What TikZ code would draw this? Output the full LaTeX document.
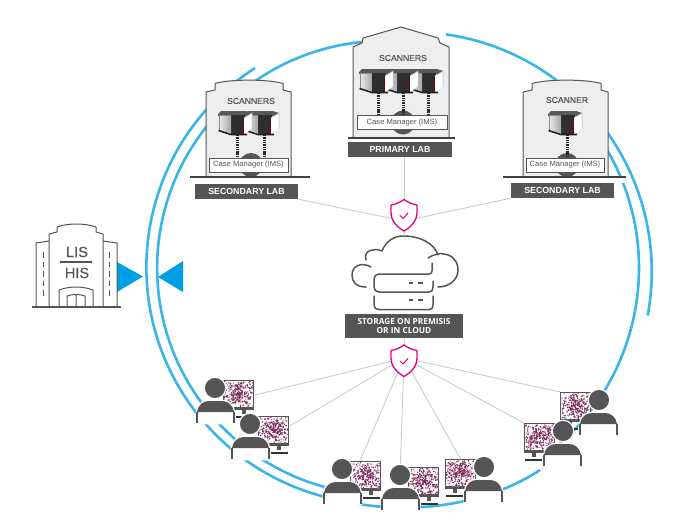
\documentclass[tikz,border=0pt]{standalone}
\usepackage{fontspec}
\setmainfont{Liberation Sans}
\newfontfamily\storagefont{Open Sans}
\newfontfamily\heavyface{Liberation Sans}[FakeBold=0.35]
\definecolor{ringblue}{HTML}{3AB5EA}
\definecolor{arrowblue}{HTML}{009FE3}
\definecolor{slate}{HTML}{555555}
\definecolor{wallgrey}{HTML}{EEEEEE}
\definecolor{wireline}{HTML}{CCCCCC}
\definecolor{shieldpink}{HTML}{E6007E}
\definecolor{tissuedark}{HTML}{7A2C5A}
\definecolor{tissuelight}{HTML}{C68FAE}
\tikzset{
  ringline/.style={draw=ringblue,line width=2.6pt},
  wire/.style={draw=wireline,line width=0.9pt},
  wall/.style={draw=slate,fill=wallgrey,line width=1pt},
  ground/.style={draw=black!75,line width=1.1pt},
  labplate/.style={fill=slate,text=white,inner sep=0pt,font=\fontsize{8.8}{10}\selectfont\bfseries,minimum height=15pt},
  casebox/.style={draw=slate,fill=white,line width=0.8pt,inner sep=0pt,minimum height=14pt,text=slate,font=\fontsize{7.6}{9}\selectfont},
  heading/.style={text=slate,inner sep=0pt,font=\fontsize{8.6}{10}\selectfont\heavyface},
  hubdisc/.style={circle,fill=slate,inner sep=0pt,minimum size=24pt},
  linkdots/.style={draw=black!85,line width=2.3pt,dash pattern=on 1.4pt off 0.9pt},
  iconline/.style={draw=slate,line width=1.5pt,line cap=round,line join=round},
  towerline/.style={draw=slate,line width=1pt,line join=round},
  screenbox/.style={draw=slate,fill=white,line width=1.5pt,inner sep=0pt,minimum width=30pt,minimum height=29pt},
  headdisc/.style={circle,draw=white,fill=slate,line width=1.2pt,inner sep=0pt,minimum size=21.5pt},
  shieldline/.style={draw=shieldpink,fill=white,line width=1.3pt,line join=round},
}
% One scanner cabinet; #1 names its lower connection point
\newcommand{\scannerunit}[3]{%
  \begin{scope}[shift={(#2,#3)}]
    \fill[black!65] (0,4) -- (3,1) -- (28,1) -- (34,3) -- (33,6) -- (0,6) -- cycle;
    \fill[black!82] (13,5) -- (27,5) -- (27,25) -- (13,25) -- cycle;
    \shade[left color=black!8,right color=black!35] (1,5) -- (13,5) -- (13,23) -- (1,20) -- cycle;
    \draw[black!45,line width=0.5pt] (1,20) -- (1,5) -- (13,5);
    \fill[white] (26,8) -- (34,3) -- (34,18) -- (26,25) -- cycle;
    \draw[black!30,line width=0.5pt] (26,8) -- (34,3) -- (34,18);
    \draw[black!88,line width=1.6pt] (0.5,20.5) -- (13,24.5) -- (29,24.5);
    \draw[red!50!black,line width=0.5pt] (25,10) -- (25,23);
    \coordinate (#1) at (19.5,25);
  \end{scope}}
% A seated viewer with a monitor: #1 name, #2 #3 head centre, #4 side of the monitor
\newcommand{\viewer}[4]{%
  \begin{scope}[shift={(#2,#3)},xscale=#4]
    \fill[slate] (27,21) rectangle (31,26);
    \fill[black!80] (21,28) rectangle (38,30);
    \node[screenbox] (#1) at (23.5,7.2) {};
    \fill[slate] (8.5,19) rectangle (38.5,22);
    \begin{scope}
      \clip (9,-6.5) rectangle (38,19);
      \foreach \k in {1,...,90}{
        \pgfmathsetmacro\dotx{9+29*rnd}\pgfmathsetmacro\doty{-6.5+25.5*rnd}
        \fill[tissuelight] (\dotx,\doty) circle (0.85);}
      \foreach \k in {1,...,70}{
        \pgfmathsetmacro\dotx{9+29*rnd}\pgfmathsetmacro\doty{-6.5+25.5*rnd}
        \fill[tissuedark] (\dotx,\doty) circle (0.75);}
      \foreach \k in {1,...,110}{
        \pgfmathsetmacro\dotx{24+15*(rnd-rnd)}\pgfmathsetmacro\doty{6+14*(rnd-rnd)}
        \fill[tissuedark] (\dotx,\doty) circle (0.85);}
    \end{scope}
    \fill[white,draw=white,line width=2.6pt] (-18,35) -- (-18,24) .. controls (-17,17) and (-12,13) .. (-6,13) -- (7,13) .. controls (13,13) and (18,17) .. (19,24) -- (19,35) -- cycle;
    \fill[slate] (-18,24) .. controls (-17,17) and (-12,13) .. (-6,13) -- (7,13) .. controls (13,13) and (18,17) .. (19,24) -- cycle;
    \draw[slate,line width=1.5pt] (-18,24) -- (-18,35) (19,24) -- (19,35);
    \node[headdisc] (#1h) at (0,0) {};
  \end{scope}}
% Security shield centred on x = 404, top edge at #1
\newcommand{\shieldmark}[1]{%
  \begin{scope}[shift={(404,#1)}]
    \draw[shieldline] (0,0) .. controls (-4,3) and (-9,5) .. (-13,5.5) -- (-13,13) .. controls (-13,22) and (-6,28) .. (0,31.5) .. controls (6,28) and (13,22) .. (13,13) -- (13,5.5) .. controls (9,5) and (4,3) .. (0,0) -- cycle;
    \draw[draw=shieldpink,line width=1pt,line cap=round,line join=round] (-4,16) -- (-1,19) -- (4,13.5);
  \end{scope}}
\begin{document}
\begin{tikzpicture}[x=1pt,y=-1pt]
\useasboundingbox (0,0) rectangle (700,525);
\fill[white] (0,0) rectangle (700,525);
\pgfmathsetseed{11}

% The broken rings, each a circular arc in page coordinates
\draw[ringline] (255,68) arc[start angle=237.2,end angle=100.2,radius=237] .. controls (415,518) and (492,502) .. (540,470);
\draw[ringline] (362,42) arc[start angle=264.4,end angle=101.1,radius=227];
\draw[ringline] (446,34.4) arc[start angle=-81.9,end angle=10.6,radius=239.5];
\draw[ringline] (605.4,147) arc[start angle=-31,end angle=53.7,radius=235];

% Arrows into and out of the hospital system
\fill[arrowblue] (117,262) -- (143,276.5) -- (117,292) -- cycle;
\fill[arrowblue] (183,261) -- (158,277) -- (183,292) -- cycle;

% Hospital building
\draw[towerline] (36,307) -- (36,243) -- (49,241);
\draw[towerline] (103,241) -- (117,243) -- (117,307);
\draw[towerline] (49,307) -- (49,234) -- (57,232) -- (57,227) .. controls (68,223) and (85,223) .. (96,227) -- (96,232) -- (103,234) -- (103,307);
\draw[ground,draw=slate] (32,307) -- (121,307);
\draw[draw=slate,line width=1pt,dash pattern=on 5.5pt off 4pt] (43,252) -- (43,296);
\draw[draw=slate,line width=1pt,dash pattern=on 5.5pt off 4pt] (109,252) -- (109,296);
\draw[towerline] (59,307) -- (59,290) .. controls (70,286) and (82,286) .. (93,290) -- (93,307);
\draw[towerline] (67,307) -- (67,296) .. controls (72,294) and (80,294) .. (85,296) -- (85,307) (76,295) -- (76,307);
\node[text=slate,inner sep=0pt,font=\fontsize{14.6}{17}\selectfont\heavyface] (lis) at (77,252) {LIS};
\node[text=slate,inner sep=0pt,font=\fontsize{14.6}{17}\selectfont\heavyface] (his) at (77,273) {HIS};
\draw[draw=slate,line width=1.1pt] (60,262) -- (92,262);

% Left secondary lab
\draw[wall] (206,177) -- (206,92) -- (215,90) -- (215,83.5) .. controls (230,79) and (268,79) .. (283,83.5) -- (283,90) -- (291,92) -- (291,177) -- cycle;
\node[heading] (headL) at (251,101) {SCANNERS};
\node[hubdisc] (hubL) at (251,165) {};
\fill[white] (190,177.6) rectangle (310,183);
\node[casebox,minimum width=79pt] (caseL) at (248.5,165) {Case Manager (IMS)};
\draw[ground] (190,177) -- (310,177);
\node[labplate,minimum width=103pt] (plateL) at (246.5,191.5) {SECONDARY LAB};
\scannerunit{scanL2}{245}{110}
\scannerunit{scanL1}{218}{110}
\draw[linkdots] (scanL1) -- (scanL1 |- caseL.north);
\draw[linkdots] (scanL2) -- (scanL2 |- caseL.north);

% Primary lab
\draw[wall] (353,138) -- (353,47) -- (362,43) -- (363,38) -- (401,27) -- (438,38) -- (440,43) -- (449,47) -- (449,138) -- cycle;
\node[heading] (headP) at (403,58) {SCANNERS};
\node[hubdisc] (hubP) at (403,122.5) {};
\fill[white] (348,138.6) rectangle (455,142);
\node[casebox,minimum width=90pt] (caseP) at (402,122.5) {Case Manager (IMS)};
\draw[ground] (348,138) -- (455,138);
\node[labplate,minimum width=104pt] (plateP) at (400,149.5) {PRIMARY LAB};
\scannerunit{scanP3}{409}{68}
\scannerunit{scanP2}{384}{68}
\scannerunit{scanP1}{359}{68}
\draw[linkdots] (scanP1) -- (scanP1 |- caseP.north);
\draw[linkdots] (scanP2) -- (scanP2 |- caseP.north);
\draw[linkdots] (scanP3) -- (scanP3 |- caseP.north);

% Right secondary lab
\draw[wall] (523,177) -- (523,92) -- (532,90) -- (532,83.5) .. controls (547,79) and (586,79) .. (601,83.5) -- (601,90) -- (608,92) -- (608,177) -- cycle;
\node[heading] (headR) at (567,100) {SCANNER};
\node[hubdisc] (hubR) at (567,165) {};
\fill[white] (503,177.6) rectangle (626,183);
\node[casebox,minimum width=78pt] (caseR) at (565,165) {Case Manager (IMS)};
\draw[ground] (503,177) -- (626,177);
\node[labplate,minimum width=103pt] (plateR) at (562.5,190.5) {SECONDARY LAB};
\scannerunit{scanR1}{548}{110}
\draw[linkdots] (scanR1) -- (scanR1 |- caseR.north);

% Storage: cloud with a two-unit server in front of it
\draw[iconline] (366,287) .. controls (356,287) and (352,282) .. (352,275) .. controls (352,267) and (360,261) .. (371,267);
\draw[iconline] (366,260) .. controls (364,254) and (368,250) .. (373,250) .. controls (377,249) and (380,250) .. (382,251) .. controls (386,241) and (394,236) .. (403,236) .. controls (420,236) and (434,243) .. (438,255);
\draw[iconline] (428,258) .. controls (434,254) and (440,253) .. (444,254) .. controls (453,255) and (458,262) .. (458,270) .. controls (458,280) and (449,287) .. (438,287);
\draw[iconline] (432,263) -- (432,271) .. controls (432,273) and (431,274) .. (429,274) -- (379,274) .. controls (376,274) and (374,276) .. (374,279) -- (374,287) .. controls (374,290) and (376,292) .. (379,292) -- (429,292) .. controls (432,292) and (433,290) .. (433,287) -- (433,281);
\draw[iconline] (374,296) -- (374,305) .. controls (374,308) and (376,309.5) .. (379,309.5) -- (429,309.5) .. controls (432,309.5) and (433,308) .. (433,305) -- (433,296);
\draw[iconline,line cap=butt] (409,283) -- (413,283) (418,283) -- (423,283) (409,300) -- (413,300) (418,300) -- (423,300);
\node[fill=slate,text=white,inner sep=0pt,minimum width=118pt,minimum height=24pt,align=center,font=\fontsize{8.3}{9.6}\selectfont\storagefont\bfseries] (storage) at (404,326) {STORAGE ON PREMISIS\\OR IN CLOUD};
\coordinate (cloudtop) at (404,236);

% Viewers and their monitors
\viewer{view1}{215}{388}{1}
\viewer{view2}{250}{424}{1}
\viewer{view3}{342}{469}{1}
\viewer{view4}{400}{475}{1}
\viewer{view5}{484}{467}{-1}
\viewer{view6}{599}{400}{-1}
\viewer{view7}{563}{431}{-1}

% Secure links through the two shields
\coordinate (shieldA) at (404,221);
\coordinate (shieldB) at (404,358);
\draw[wire] (plateP.south -| shieldA) -- (shieldA);
\draw[wire] (plateL.south east) -- (shieldA);
\draw[wire] (plateR.south west) -- (shieldA);
\draw[wire] (shieldA) -- (cloudtop);
\draw[wire] (storage.south -| shieldB) -- (shieldB);
\draw[wire] (shieldB) -- (view1.east);
\draw[wire] (shieldB) -- (view2.18);
\draw[wire] (shieldB) -- (view3.110);
\draw[wire] (shieldB) -- (view4h);
\draw[wire] (shieldB) -- (view5.north);
\draw[wire] (shieldB) -- (view6.north west);
\draw[wire] (shieldB) -- (view7.north west);
\shieldmark{199.5}
\shieldmark{345}
\end{tikzpicture}
\end{document}
